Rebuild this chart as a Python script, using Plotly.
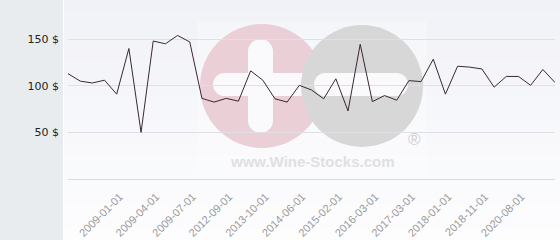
import plotly.graph_objects as go

# ---- data ----
values = [113, 105, 103, 106, 91, 140, 50, 148, 145, 154,
          147, 86.5, 82.5, 86.5, 83.5, 116, 106, 86, 82.5, 100.5,
          95.5, 86, 107.5, 73, 144.5, 83, 89.5, 84.5, 105.5, 104.5,
          128.5, 91, 121, 120, 118, 98.5, 110, 110, 100.5, 117.5, 103.5]
x_index = list(range(len(values)))
tick_positions = [4, 7, 10, 13, 16, 19, 22, 25, 28, 31, 34, 37]
tick_labels = ["2009-01-01", "2009-04-01", "2009-07-01", "2012-09-01",
               "2013-10-01", "2014-06-01", "2015-02-01", "2016-03-01",
               "2017-03-01", "2018-01-01", "2018-11-01", "2020-08-01"]
y_ticks = [50, 100, 150]
y_labels = ["50 $", "100 $", "150 $"]

W, H = 560, 240
L, R, T, B = 68, 5, 0, 61
PW, PH = W - L - R, H - T - B


def px(x):
    return (x - L) / PW


def py(y):
    return (H - B - y) / PH


shapes = []
# left grey panel
shapes.append(dict(type="rect", xref="paper", yref="paper", layer="below",
                   x0=px(0), x1=px(63), y0=py(H), y1=py(0),
                   fillcolor="#e8ecef", line_width=0))
# background gradient
n = 20
c0 = (241, 242, 247)
c1 = (253, 253, 254)
for i in range(n):
    t = i / (n - 1)
    c = tuple(round(c0[k] + (c1[k] - c0[k]) * t) for k in range(3))
    shapes.append(dict(type="rect", xref="paper", yref="paper", layer="below",
                       x0=px(64), x1=px(W), y0=py(H * (i + 1) / n), y1=py(H * i / n),
                       fillcolor="rgb(%d,%d,%d)" % c, line_width=0))

# watermark
shapes.append(dict(type="rect", xref="paper", yref="paper", layer="below",
                   x0=px(197), x1=px(427), y0=py(174), y1=py(22),
                   fillcolor="rgba(255,255,255,0.25)", line_width=0))


def circ(cx, cy, r, color):
    shapes.append(dict(type="circle", xref="paper", yref="paper", layer="below",
                       x0=px(cx - r), x1=px(cx + r), y0=py(cy + r), y1=py(cy - r),
                       fillcolor=color, line_width=0))


def rect(x0, x1, y0, y1, color):
    shapes.append(dict(type="rect", xref="paper", yref="paper", layer="below",
                       x0=px(x0), x1=px(x1), y0=py(y1), y1=py(y0),
                       fillcolor=color, line_width=0))


def hbar(x0, x1, y0, y1, color):
    r = (y1 - y0) / 2
    rect(x0 + r, x1 - r, y0, y1, color)
    circ(x0 + r, (y0 + y1) / 2, r, color)
    circ(x1 - r, (y0 + y1) / 2, r, color)


def vbar(x0, x1, y0, y1, color):
    r = (x1 - x0) / 2
    rect(x0, x1, y0 + r, y1 - r, color)
    circ((x0 + x1) / 2, y0 + r, r, color)
    circ((x0 + x1) / 2, y1 - r, r, color)


pink = "#eacfd6"
grey = "#d7d7d7"
white = "#fafafc"
circ(262, 86, 62, pink)
vbar(248, 273, 39, 133, white)
hbar(213, 320, 73, 96, white)
circ(362, 86, 61, grey)
hbar(314, 408, 73, 96, white)

fig = go.Figure()
fig.add_trace(go.Scatter(x=x_index, y=values, mode="lines",
                         line=dict(color="#3a2833", width=1.0),
                         hoverinfo="skip", showlegend=False))

fig.add_annotation(xref="paper", yref="paper", x=px(312), y=py(161),
                   text="<b>www.Wine-Stocks.com</b>", showarrow=False,
                   xanchor="center", yanchor="middle",
                   font=dict(family="Liberation Sans, Arial", size=15, color="#e0e0e2"))
fig.add_annotation(xref="paper", yref="paper", x=px(414), y=py(139),
                   text="®", showarrow=False, yanchor="middle", xanchor="center",
                   font=dict(family="Liberation Sans, Arial", size=17, color="#cfcfd2"))

fig.update_layout(
    width=W, height=H,
    margin=dict(l=L, r=R, t=T, b=B, pad=0),
    paper_bgcolor="white",
    plot_bgcolor="rgba(0,0,0,0)",
    shapes=shapes,
    showlegend=False,
    xaxis=dict(range=[0, len(values) - 1], tickmode="array",
               tickvals=tick_positions, ticktext=tick_labels,
               tickangle=-45, showgrid=False, zeroline=False,
               showline=True, linecolor="#dcdcdf", linewidth=1,
               ticks="", ticklabelstandoff=6, ticklabelshift=3,
               tickfont=dict(family="Liberation Sans, Arial", size=11, color="#9a9a9a")),
    yaxis=dict(range=[0, 192], tickmode="array", tickvals=y_ticks, ticktext=y_labels,
               showgrid=True, gridcolor="#dfe0e6", gridwidth=1, zeroline=False,
               showline=False, ticks="", ticklabelstandoff=8,
               tickfont=dict(family="DejaVu Sans", size=11, color="#222222")),
)

fig.write_html("out.html")
